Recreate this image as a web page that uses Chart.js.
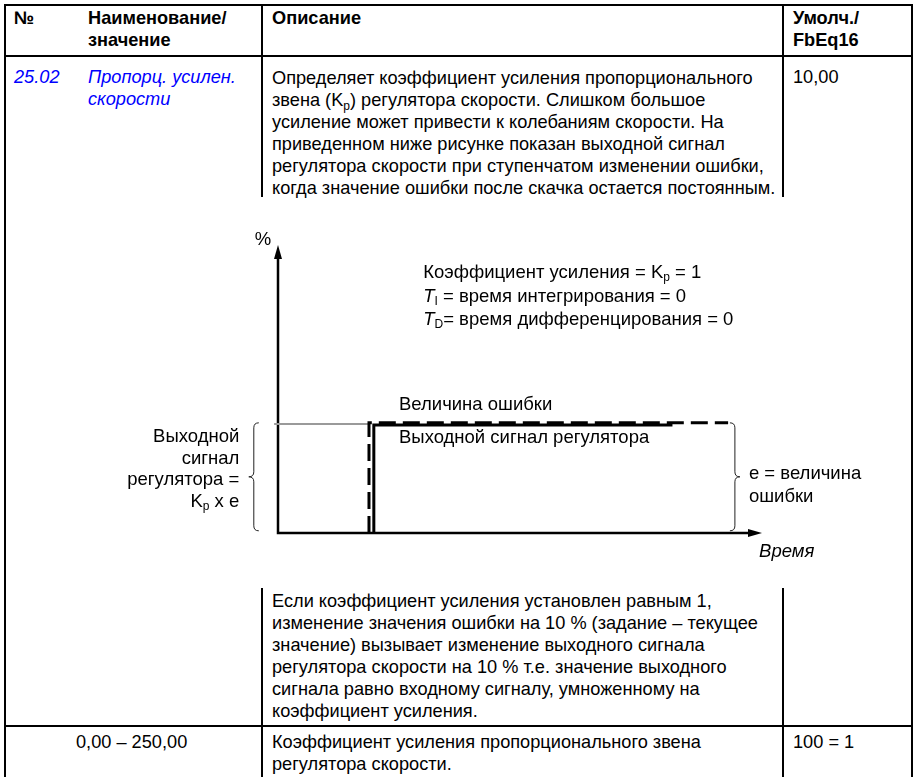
<!DOCTYPE html>
<html>
<head>
<meta charset="utf-8">
<script src="https://cdn.jsdelivr.net/npm/chart.js@4.4.0/dist/chart.umd.min.js"></script>
<style>
body { margin: 0; background: #fff; }
#page { position: relative; width: 917px; height: 777px; overflow: hidden;
  font-family: "Liberation Sans", Arial, sans-serif; font-size: 18.2px; line-height: 22px; color: #000; }
.t { position: absolute; white-space: nowrap; }
.b { font-weight: bold; }
.blue { color: #0000ff; font-style: italic; }
.ln { position: absolute; background: #000; }
sub { font-size: 12px; line-height: 0; vertical-align: -4px; }
#chartBox { position: absolute; left: 6px; top: 199px; width: 905px; height: 388px; }
</style>
</head>
<body>
<div id="page">
  <!-- table frame -->
  <div class="ln" style="left:4px;top:4px;width:909px;height:2px"></div>
  <div class="ln" style="left:4px;top:4px;width:2px;height:773px"></div>
  <div class="ln" style="left:911px;top:4px;width:2px;height:773px"></div>
  <div class="ln" style="left:4px;top:55px;width:909px;height:2px"></div>
  <div class="ln" style="left:261px;top:4px;width:2px;height:193px"></div>
  <div class="ln" style="left:782px;top:4px;width:2px;height:193px"></div>
  <div class="ln" style="left:261px;top:588px;width:2px;height:189px"></div>
  <div class="ln" style="left:782px;top:588px;width:2px;height:189px"></div>
  <div class="ln" style="left:4px;top:725px;width:909px;height:2px"></div>

  <!-- header -->
  <div class="t b" style="left:14px;top:7px">№</div>
  <div class="t b" style="left:88px;top:7px">Наименование/<br>значение</div>
  <div class="t b" style="left:272px;top:7px">Описание</div>
  <div class="t b" style="left:793px;top:7px">Умолч./<br>FbEq16</div>

  <!-- row 25.02 -->
  <div class="t blue" style="left:14px;top:66px">25.02</div>
  <div class="t blue" style="left:88px;top:66px">Пропорц. усилен.<br>скорости</div>
  <div class="t" style="left:272px;top:67px">Определяет коэффициент усиления пропорционального<br>звена (K<sub>p</sub>) регулятора скорости. Слишком большое<br>усиление может привести к колебаниям скорости. На<br>приведенном ниже рисунке показан выходной сигнал<br>регулятора скорости при ступенчатом изменении ошибки,<br>когда значение ошибки после скачка остается постоянным.</div>
  <div class="t" style="left:793px;top:66px">10,00</div>

  <div id="chartBox"><canvas id="chart" width="905" height="388"></canvas></div>

  <div class="t" style="left:272px;top:590px">Если коэффициент усиления установлен равным 1,<br>изменение значения ошибки на 10 % (задание – текущее<br>значение) вызывает изменение выходного сигнала<br>регулятора скорости на 10 % т.е. значение выходного<br>сигнала равно входному сигналу, умноженному на<br>коэффициент усиления.</div>

  <div class="t" style="left:76px;top:731px">0,00 – 250,00</div>
  <div class="t" style="left:272px;top:731px">Коэффициент усиления пропорционального звена<br>регулятора скорости.</div>
  <div class="t" style="left:793px;top:731px">100 = 1</div>
</div>

<script>
// axis ranges (time units, %)
const timeRange = [0, 10];
const pctRange = [0, 26.4];

// error step (dashed) and controller output (solid)
const errorX = [1.88, 1.88, 9.3];
const errorY = [0, 10.1, 10.1];
const outputX = [1.98, 1.98, 8.15];
const outputY = [0, 9.9, 9.9];
// grey level guide from the y axis to the step
const guideX = [-0.08, 1.88];
const guideY = [10, 10];

const toPoints = (xs, ys) => xs.map((x, i) => ({ x: x, y: ys[i] }));

const FONT = '18.5px "Liberation Sans", Arial, sans-serif';
const FONT_I = 'italic 18.5px "Liberation Sans", Arial, sans-serif';
const FONT_SUB = '12px "Liberation Sans", Arial, sans-serif';

// draws text made of parts like {t, sub, it}
function richText(ctx, parts, x, y, align) {
  const fontOf = p => p.sub ? FONT_SUB : (p.it ? FONT_I : FONT);
  let w = 0;
  parts.forEach(p => { ctx.font = fontOf(p); w += ctx.measureText(p.t).width; });
  let cx = align === 'right' ? x - w : x;
  ctx.textAlign = 'left';
  ctx.textBaseline = 'middle';
  parts.forEach(p => {
    ctx.font = fontOf(p);
    ctx.fillText(p.t, cx, p.sub ? y + 5 : y);
    cx += ctx.measureText(p.t).width;
  });
}

function brace(ctx, x, yTop, yBot, dir) {
  const r = 5, mid = (yTop + yBot) / 2;
  ctx.beginPath();
  ctx.moveTo(x - dir * r, yTop);
  ctx.quadraticCurveTo(x, yTop, x, yTop + r);
  ctx.lineTo(x, mid - r);
  ctx.quadraticCurveTo(x, mid, x + dir * r, mid);
  ctx.quadraticCurveTo(x, mid, x, mid + r);
  ctx.lineTo(x, yBot - r);
  ctx.quadraticCurveTo(x, yBot, x - dir * r, yBot);
  ctx.stroke();
}

const diagram = {
  id: 'diagram',
  beforeDatasetsDraw(chart) {
    const ctx = chart.ctx, xs = chart.scales.x, ys = chart.scales.y;
    const x0 = xs.getPixelForValue(timeRange[0]), x1 = xs.getPixelForValue(timeRange[1]);
    const y0 = ys.getPixelForValue(pctRange[0]), y1 = ys.getPixelForValue(pctRange[1]);
    ctx.save();
    ctx.strokeStyle = '#000';
    ctx.fillStyle = '#000';
    ctx.lineWidth = 2.5;
    ctx.beginPath();
    ctx.moveTo(x0, y1 + 10); ctx.lineTo(x0, y0); ctx.lineTo(x1 - 10, y0);
    ctx.stroke();
    // arrow heads
    ctx.beginPath();
    ctx.moveTo(x0, y1); ctx.lineTo(x0 - 4, y1 + 14); ctx.lineTo(x0 + 4, y1 + 14); ctx.closePath();
    ctx.fill();
    ctx.beginPath();
    ctx.moveTo(x1, y0); ctx.lineTo(x1 - 14, y0 - 4); ctx.lineTo(x1 - 14, y0 + 4); ctx.closePath();
    ctx.fill();
    ctx.restore();
  },
  afterDatasetsDraw(chart) {
    const ctx = chart.ctx, xs = chart.scales.x, ys = chart.scales.y;
    const px = v => xs.getPixelForValue(v), py = v => ys.getPixelForValue(v);
    ctx.save();
    ctx.strokeStyle = '#222';
    ctx.lineWidth = 1;
    brace(ctx, px(-0.5), py(10.1), py(0.2), -1);
    brace(ctx, px(9.44), py(10.1), py(0.2), 1);

    ctx.fillStyle = '#000';
    const yTop = pctRange[1];
    richText(ctx, [{ t: '%' }], px(-0.48), py(yTop) - 5);
    richText(ctx, [{ t: 'Коэффициент усиления = K' }, { t: 'p', sub: true }, { t: ' = 1' }], px(3.0), py(yTop) + 28);
    richText(ctx, [{ t: 'T', it: true }, { t: 'I', sub: true }, { t: ' = время интегрирования = 0' }], px(3.0), py(yTop) + 52);
    richText(ctx, [{ t: 'T', it: true }, { t: 'D', sub: true }, { t: '= время дифференцирования = 0' }], px(3.0), py(yTop) + 75);

    const lvl = py(10);
    richText(ctx, [{ t: 'Величина ошибки' }], px(2.5), lvl - 19);
    richText(ctx, [{ t: 'Выходной сигнал регулятора' }], px(2.5), lvl + 14);

    richText(ctx, [{ t: 'Выходной' }], px(-0.8), lvl + 13, 'right');
    richText(ctx, [{ t: 'сигнал' }], px(-0.8), lvl + 35, 'right');
    richText(ctx, [{ t: 'регулятора =' }], px(-0.8), lvl + 56, 'right');
    richText(ctx, [{ t: 'K' }, { t: 'p', sub: true }, { t: ' x e' }], px(-0.8), lvl + 78, 'right');

    richText(ctx, [{ t: 'e = величина' }], px(9.73), lvl + 50);
    richText(ctx, [{ t: 'ошибки' }], px(9.73), lvl + 73);

    richText(ctx, [{ t: 'Время', it: true }], px(9.94), py(0) + 19);
    ctx.restore();
  }
};

new Chart(document.getElementById('chart'), {
  type: 'scatter',
  data: {
    datasets: [
      {
        label: 'Величина ошибки',
        data: toPoints(errorX, errorY),
        showLine: true,
        borderColor: '#000',
        borderWidth: 3,
        borderDash: [17, 7],
        pointRadius: 0,
        clip: false
      },
      {
        label: 'Выходной сигнал регулятора',
        data: toPoints(outputX, outputY),
        showLine: true,
        borderColor: '#000',
        borderWidth: 3,
        pointRadius: 0,
        clip: false
      },
      {
        label: 'level',
        data: toPoints(guideX, guideY),
        showLine: true,
        borderColor: '#9a9a9a',
        borderWidth: 2,
        pointRadius: 0,
        clip: false
      }
    ]
  },
  options: {
    responsive: false,
    animation: false,
    devicePixelRatio: 1,
    layout: { padding: { left: 272, right: 149, top: 46, bottom: 54 } },
    plugins: { legend: { display: false }, tooltip: { enabled: false } },
    scales: {
      x: { type: 'linear', min: timeRange[0], max: timeRange[1], display: false },
      y: { type: 'linear', min: pctRange[0], max: pctRange[1], display: false }
    }
  },
  plugins: [diagram]
});
</script>
</body>
</html>
